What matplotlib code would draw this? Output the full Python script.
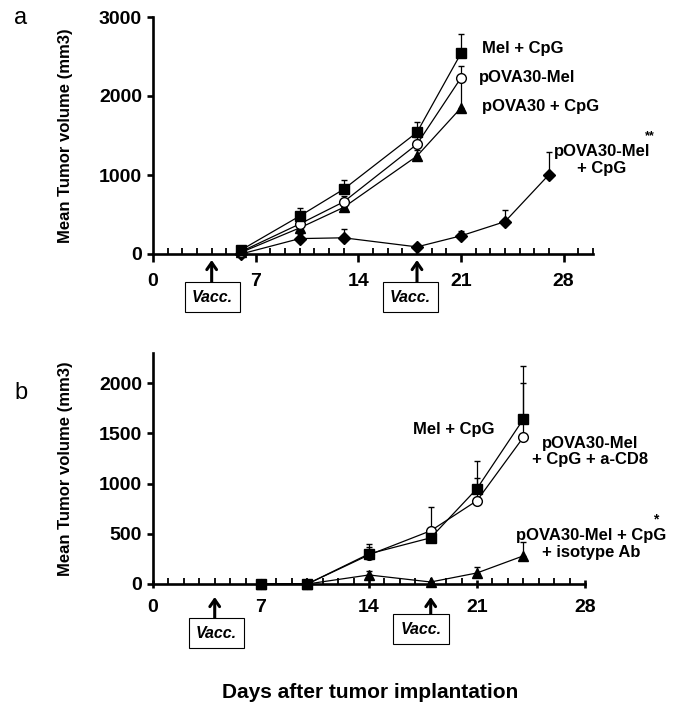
import numpy as np
import matplotlib.pyplot as plt

plt.rcParams['font.family'] = ['Liberation Sans', 'DejaVu Sans']
plt.rcParams['font.weight'] = 'bold'

# Panel a data (days after implantation, mean volume, upper SEM)
days_a = [6, 10, 13, 18, 21]
mel_cpg_a = [50, 480, 820, 1540, 2540]
mel_cpg_a_err = [0, 100, 120, 130, 240]
pova_mel_a = [30, 380, 660, 1390, 2230]
pova_mel_a_err = [0, 50, 70, 90, 150]
pova_cpg_a = [20, 330, 590, 1240, 1850]
pova_cpg_a_err = [0, 50, 60, 80, 370]
days_a2 = [6, 10, 13, 18, 21, 24, 27]
pova_mel_cpg_a = [0, 195, 205, 90, 230, 410, 1005]
pova_mel_cpg_a_err = [0, 60, 110, 0, 60, 150, 280]

# Panel b data
days_b = [7, 10, 14, 18, 21, 24]
mel_cpg_b = [0, 0, 300, 460, 950, 1640]
mel_cpg_b_err = [0, 0, 100, 0, 270, 530]
cd8_b = [0, 0, 290, 530, 830, 1460]
cd8_b_err = [0, 0, 80, 240, 230, 540]
iso_b = [0, 0, 90, 20, 110, 280]
iso_b_err = [0, 0, 40, 0, 60, 140]

vacc_days = [4, 18]
x_ticks = [0, 7, 14, 21, 28]

fig = plt.figure(figsize=(7, 7.1), dpi=100)
ax_a = fig.add_axes([153 / 700, 1 - 254 / 710, 440 / 700, 237 / 710])
ax_b = fig.add_axes([153 / 700, 1 - 584 / 710, 432 / 700, 231 / 710])


def plot_series(ax, x, y, err, marker, fill, ms=7):
    cont = ax.errorbar(x, y, yerr=[np.zeros(len(err)), err], color='black', lw=0.9,
                       marker=marker, ms=ms, mfc=fill, mec='black', mew=1,
                       elinewidth=0.9, capsize=2, capthick=0.9, zorder=3)
    for art in cont.get_children():
        art.set_clip_on(False)


for ax, xmax, ymax, yt, major_dir in [(ax_a, 30, 3000, [0, 1000, 2000, 3000], 'out'),
                                      (ax_b, 28, 2300, [0, 500, 1000, 1500, 2000], 'inout')]:
    ax.set_xlim(0, xmax)
    ax.set_ylim(0, ymax)
    ax.spines['top'].set_visible(False)
    ax.spines['right'].set_visible(False)
    ax.spines['left'].set_linewidth(1.9)
    ax.spines['bottom'].set_linewidth(1.9)
    ax.set_xticks(x_ticks)
    ax.set_xticks(range(0, xmax + 1), minor=True)
    ax.set_yticks(yt)
    ax.tick_params(axis='x', which='minor', direction='in', length=4, width=1.3)
    ax.tick_params(axis='x', which='major', direction=major_dir, length=6, width=1.9,
                   pad=8, labelsize=14)
    ax.tick_params(axis='y', which='major', direction='out', length=4, width=1.9,
                   pad=4, labelsize=14)
    ax.set_ylabel('Mean Tumor volume (mm3)', fontsize=12, fontweight='bold')
    ax.yaxis.set_label_coords(-80 / (440 if ax is ax_a else 432), 0.5)

# panel a
plot_series(ax_a, days_a2, pova_mel_cpg_a, pova_mel_cpg_a_err, 'D', 'black', ms=6)
plot_series(ax_a, days_a, pova_cpg_a, pova_cpg_a_err, '^', 'black')
plot_series(ax_a, days_a, pova_mel_a, pova_mel_a_err, 'o', 'white')
plot_series(ax_a, days_a, mel_cpg_a, mel_cpg_a_err, 's', 'black')

ax_a.text(22.45, 2600, 'Mel + CpG', fontsize=12, ha='left', va='center')
ax_a.text(22.2, 2240, 'pOVA30-Mel', fontsize=12, ha='left', va='center')
ax_a.text(22.4, 1870, 'pOVA30 + CpG', fontsize=12, ha='left', va='center')
ax_a.text(30.6, 1190, 'pOVA30-Mel\n+ CpG', fontsize=12, ha='center', va='center',
          multialignment='center', linespacing=1.15)
ax_a.text(33.9, 1490, '**', fontsize=9, ha='center', va='center')

# panel b
plot_series(ax_b, days_b, iso_b, iso_b_err, '^', 'black')
plot_series(ax_b, days_b, cd8_b, cd8_b_err, 'o', 'white')
plot_series(ax_b, days_b, mel_cpg_b, mel_cpg_b_err, 's', 'black')

ax_b.text(16.85, 1540, 'Mel + CpG', fontsize=12, ha='left', va='center')
ax_b.text(28.3, 1320, 'pOVA30-Mel\n+ CpG + a-CD8', fontsize=12, ha='center', va='center',
          multialignment='center', linespacing=1.15)
ax_b.text(28.4, 400, 'pOVA30-Mel + CpG\n+ isotype Ab', fontsize=12, ha='center', va='center',
          multialignment='center', linespacing=1.15)
ax_b.text(32.6, 640, '*', fontsize=10, ha='center', va='center')

# vaccination markers: arrows pointing up to the axis and boxed labels
# (box x shift, box centre depth, arrow tail depth, arrow tip depth) in pixels below axis
k = 0.72
for ax, boxes in [(ax_a, [(1, 43, 29, 6), (-6.5, 43, 29, 6)]),
                  (ax_b, [(2, 49, 34, 13), (-9.5, 45, 31, 13)])]:
    for day, (bdx, bdy, tail, tip) in zip(vacc_days, boxes):
        ax.annotate('', xy=(day, 0), xycoords=('data', 'axes fraction'),
                    xytext=(0, -tail * k), textcoords='offset points',
                    arrowprops=dict(arrowstyle='->,head_length=0.5,head_width=0.35',
                                    lw=2.2, color='black', shrinkA=0, shrinkB=tip * k),
                    annotation_clip=False)
        ax.annotate('Vacc.', xy=(day, 0), xycoords=('data', 'axes fraction'),
                    xytext=(bdx * k, -bdy * k), textcoords='offset points',
                    ha='center', va='center', fontsize=11.5, style='italic', fontweight='bold',
                    bbox=dict(boxstyle='square,pad=0.45', fc='white', ec='black', lw=0.8),
                    annotation_clip=False, zorder=4)

fig.text(0.02, 1 - 18 / 710, 'a', fontsize=17, fontweight='normal', ha='left', va='center')
fig.text(0.02, 1 - 393 / 710, 'b', fontsize=17, fontweight='normal', ha='left', va='center')
fig.text(370 / 700, 1 - 692 / 710, 'Days after tumor implantation', fontsize=15,
         fontweight='bold', ha='center', va='center')

fig.savefig('out.png', dpi=100)
